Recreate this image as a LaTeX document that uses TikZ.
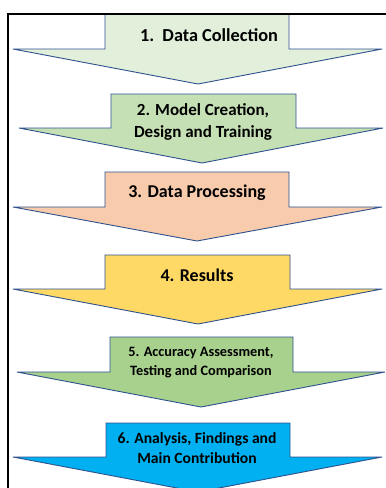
\documentclass[tikz,border=0pt]{standalone}
\usepackage{fontspec}
\setmainfont{Carlito}
\definecolor{edgeblue}{HTML}{2F528F}
\definecolor{stageA}{HTML}{E2EFDA}
\definecolor{stageB}{HTML}{C5E0B4}
\definecolor{stageC}{HTML}{F8CBAD}
\definecolor{stageD}{HTML}{FFD966}
\definecolor{stageE}{HTML}{A9D18E}
\definecolor{stageF}{HTML}{00B0F0}
% block arrow: #1 top, #2 body left, #3 body right, #4 shoulder y,
% #5 wing left, #6 wing right, #7 tip x, #8 tip y, #9 fill colour
\newcommand\stagearrow[9]{%
  \filldraw[arrowshape, fill=#9]
    (#2,#1) -- (#3,#1) -- (#3,#4) -- (#6,#4) -- (#7,#8)
    -- (#5,#4) -- (#2,#4) -- cycle;}
\tikzset{
  arrowshape/.style={draw=edgeblue, line width=0.9pt, line join=miter},
  label/.style={font=\bfseries, align=center, text=black, inner sep=0pt},
  frameline/.style={draw=black, line width=2pt}
}
\begin{document}
\begin{tikzpicture}[x=1pt, y=-1pt]
\useasboundingbox (0,0) rectangle (386,488);
\fill[white] (0,0) rectangle (386,488);
\begin{scope}
\clip (0,0) rectangle (386,488);
\stagearrow{14}{105}{289}{49}{13}{382}{198}{84}{stageA}
\stagearrow{94}{111}{296}{128}{19}{383}{202}{163}{stageB}
\stagearrow{172}{105}{289}{207}{13}{382}{197}{241}{stageC}
\stagearrow{255}{105}{290}{289}{13}{382}{198}{324}{stageD}
\stagearrow{337}{110}{293}{372}{17}{385}{201}{407}{stageE}
\stagearrow{423}{106}{290}{457}{13}{382}{198}{492}{stageF}
\draw[frameline] (8,14) rectangle (396,500);
\end{scope}
\node[label, font=\bfseries\fontsize{18.3}{20}\selectfont] (s1) at (209,35) {1.\ \ Data Collection};
\node[label, font=\bfseries\fontsize{17}{22}\selectfont] (s2) at (203,122) {2. Model Creation,\\Design and Training};
\node[label, font=\bfseries\fontsize{18}{21}\selectfont] (s3) at (197,193) {3. Data Processing};
\node[label, font=\bfseries\fontsize{18}{21}\selectfont] (s4) at (197,275) {4. Results};
\node[label, font=\bfseries\fontsize{14.3}{18.5}\selectfont] (s5) at (201,362.5) {5. Accuracy Assessment,\\Testing and Comparison};
\node[label, font=\bfseries\fontsize{15.6}{20}\selectfont] (s6) at (197,448) {6. Analysis, Findings and\\Main Contribution};
\end{tikzpicture}
\end{document}
